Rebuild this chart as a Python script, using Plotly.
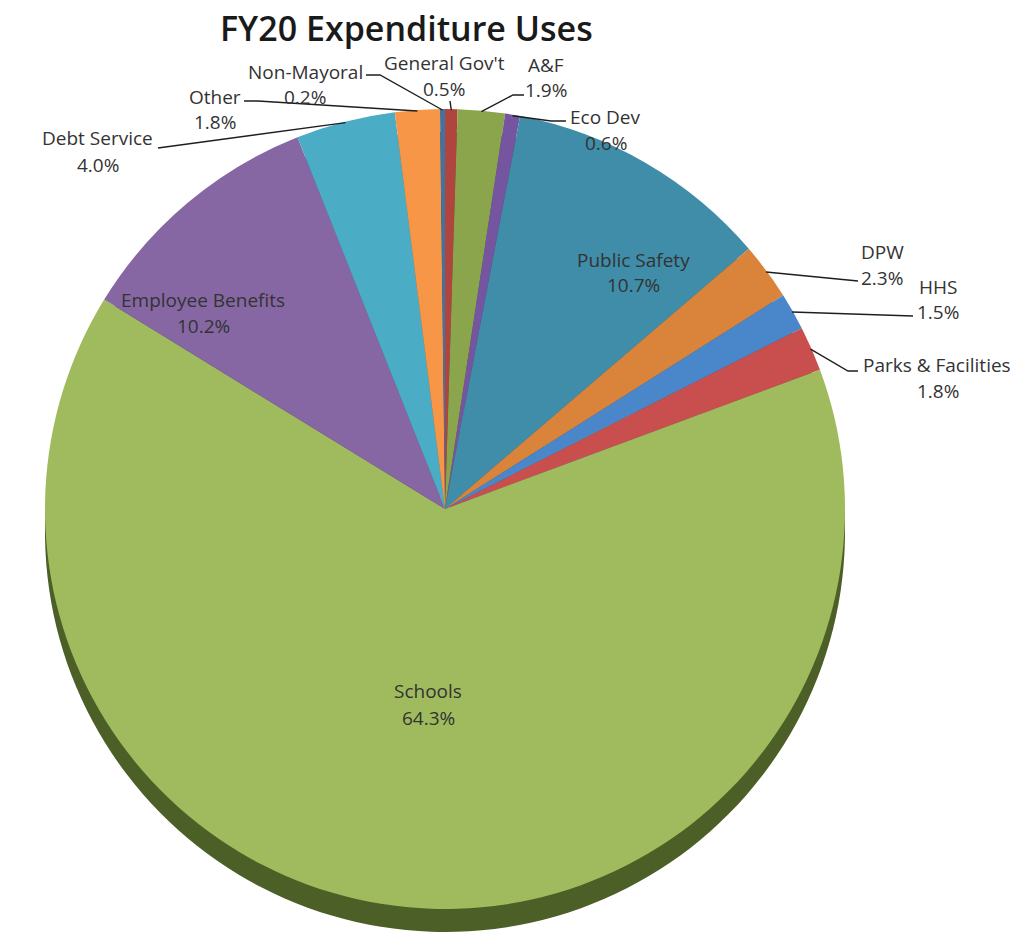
import math
import plotly.graph_objects as go

# ---------------- data ----------------
labels = ["General Gov't", "A&F", "Eco Dev", "Public Safety", "DPW", "HHS",
          "Parks & Facilities", "Schools", "Employee Benefits", "Debt Service",
          "Other", "Non-Mayoral"]
values = [0.5, 1.9, 0.6, 10.7, 2.3, 1.5, 1.8, 64.3, 10.2, 4.0, 1.8, 0.2]
title_text = "FY20 Expenditure Uses"

# ---------------- style ----------------
colors = ["#B0443F", "#8AA54B", "#7554A0", "#3F8DA8", "#D9843A", "#4A87CA",
          "#C84F4E", "#9FBB5D", "#8667A4", "#4BACC6", "#F79646", "#44729F"]
side_colors = ["#6E2B28", "#56672F", "#4A3566", "#285A6B", "#8A5425", "#2F5681",
               "#7F3232", "#4B5F27", "#553F68", "#2F6D7E", "#9D5F2C", "#2B4965"]

W, H = 1016, 932
cx, cy, r = 445, 509, 400     # pie centre / radius in pixels
depth = 23                    # 3-D side thickness in pixels
FONT = "Open Sans"
TXT = "#333333"
FS = 19

def px(x):
    return x / W

def py(y):
    return min(1.0, max(0.0, 1 - y / H))

total = sum(values)

def edge_point(i, rr=r - 1):
    start = sum(values[:i])
    mid = (start + values[i] / 2) / total * 2 * math.pi
    return cx + rr * math.sin(mid), cy - rr * math.cos(mid)

fig = go.Figure()

# 3-D side (darker pie offset downward)
fig.add_trace(go.Pie(
    labels=labels, values=values, sort=False, direction="clockwise", rotation=0,
    marker=dict(colors=side_colors, line=dict(width=0)),
    textinfo="none", hoverinfo="skip", showlegend=False,
    domain=dict(x=[px(cx - r), px(cx + r)], y=[py(cy + r + depth), py(cy - r + depth)]),
))
# top surface
fig.add_trace(go.Pie(
    labels=labels, values=values, sort=False, direction="clockwise", rotation=0,
    marker=dict(colors=colors, line=dict(width=0)),
    textinfo="none", hoverinfo="label+value", showlegend=False,
    domain=dict(x=[px(cx - r), px(cx + r)], y=[py(cy + r), py(cy - r)]),
))

# label placement: (name centre, percent centre, leader start, leader kink)
label_pos = {
    "General Gov't": ((444, 63), (444, 89), (450, 101), None),
    "A&F": ((546, 65), (546, 90), (524, 95), (513, 95)),
    "Eco Dev": ((605, 117), (606, 143), (566, 121), (551, 121)),
    "Public Safety": ((633, 260), (633, 285), None, None),
    "DPW": ((882, 252), (882, 278), (858, 281), None),
    "HHS": ((938, 287), (938, 312), (913, 316), None),
    "Parks & Facilities": ((937, 365), (938, 391), (858, 371), (848, 371)),
    "Schools": ((428, 691), (428, 718), None, None),
    "Employee Benefits": ((203, 300), (203, 326), None, None),
    "Debt Service": ((97, 138), (98, 165), (158, 148), None),
    "Other": ((215, 97), (215, 122), (244, 101), (258, 101)),
    "Non-Mayoral": ((305, 72), (305, 97), (366, 75), (380, 75)),
}

annotations = []
shapes = []
for i, lab in enumerate(labels):
    (nx, ny), (qx, qy), start, kink = label_pos[lab]
    annotations.append(dict(x=px(nx), y=py(ny), xref="paper", yref="paper",
                            text=lab, showarrow=False, xanchor="center", yanchor="middle",
                            font=dict(family=FONT, size=FS, color=TXT)))
    annotations.append(dict(x=px(qx), y=py(qy), xref="paper", yref="paper",
                            text=f"{values[i]:.1f}%", showarrow=False,
                            xanchor="center", yanchor="middle",
                            font=dict(family=FONT, size=FS, color=TXT)))
    if start is not None:
        ex, ey = edge_point(i)
        pts = [start] + ([kink] if kink else []) + [(ex, ey)]
        path = "M " + " L ".join(f"{px(a):.5f},{py(b):.5f}" for a, b in pts)
        shapes.append(dict(type="path", path=path, xref="paper", yref="paper",
                           line=dict(color="#1e1e1e", width=1.4)))

annotations.append(dict(x=px(406), y=py(28), xref="paper", yref="paper",
                        text=title_text, showarrow=False, xanchor="center",
                        yanchor="middle",
                        font=dict(family=FONT, size=34, color="#1a1a1a", weight=600)))

fig.update_layout(
    width=W, height=H, autosize=False,
    margin=dict(l=0, r=0, t=0, b=0),
    paper_bgcolor="white", plot_bgcolor="white",
    annotations=annotations, shapes=shapes,
    showlegend=False,
)

fig.write_html("out.html",
               config={"displayModeBar": False},
               post_script="document.body.style.margin='0';"
                           "document.body.style.overflow='hidden';")
